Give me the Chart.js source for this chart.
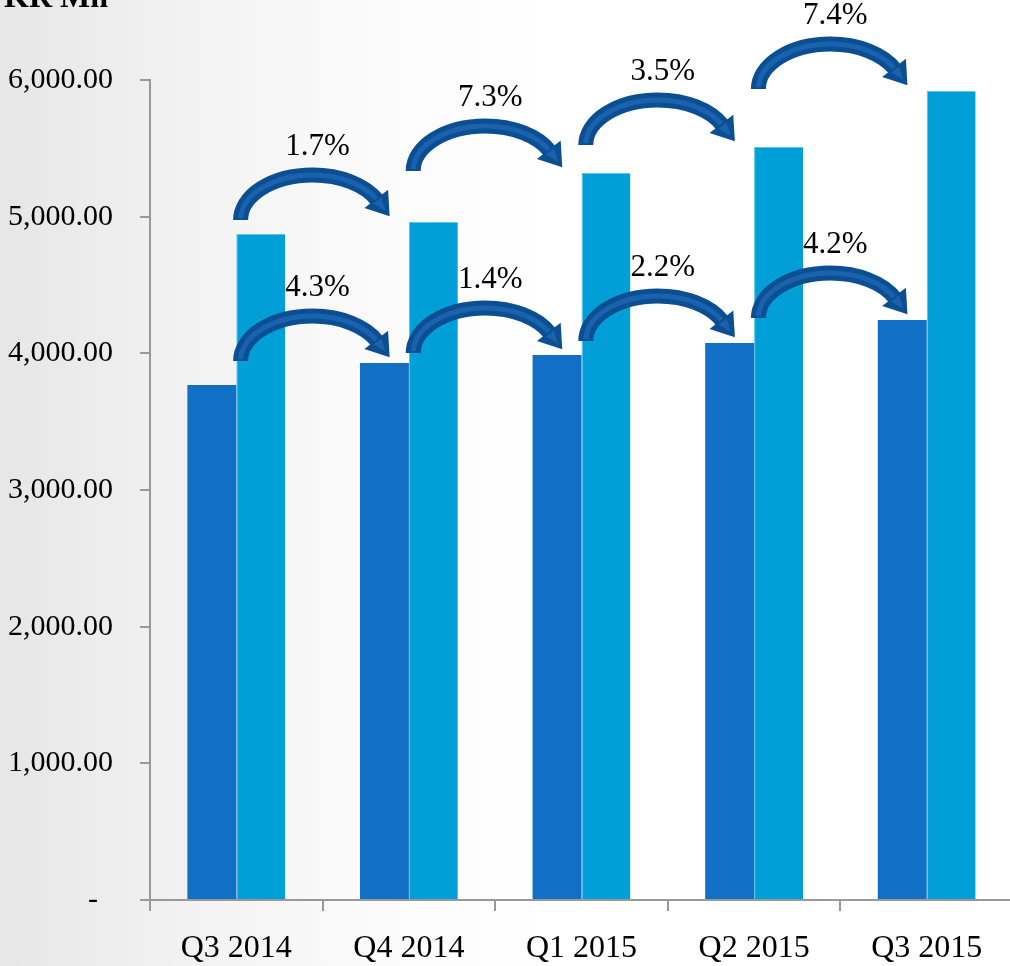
<!DOCTYPE html>
<html>
<head>
<meta charset="utf-8">
<script src="https://cdn.jsdelivr.net/npm/chart.js@4"></script>
<style>
  html, body { margin: 0; padding: 0; width: 1010px; height: 966px; overflow: hidden; }
  body { background: linear-gradient(to right, #e6e6e6 0%, #f2f2f2 18%, #fbfbfb 38%, #ffffff 55%); }
  #wrap { position: absolute; left: 0; top: 0; width: 1013px; height: 966px; }
</style>
</head>
<body>
<div id="wrap"><canvas id="c"></canvas></div>
<script>
const categories = ['Q3 2014', 'Q4 2014', 'Q1 2015', 'Q2 2015', 'Q3 2015'];
const seriesDark = [3768, 3929, 3988, 4076, 4244];
const seriesLight = [4873, 4961, 5320, 5510, 5919];
const growthDark = ['4.3%', '1.4%', '2.2%', '4.2%'];
const growthLight = ['1.7%', '7.3%', '3.5%', '7.4%'];
const yTickValues = [0, 1000, 2000, 3000, 4000, 5000, 6000];
const unitLabel = 'PKR Mn';

const FONT = '"Liberation Serif", "Times New Roman", serif';

function fmt(v) {
  if (v === 0) return '-  ';
  const s = Math.round(v).toString().replace(/\B(?=(\d{3})+(?!\d))/g, ',');
  return s + '.00';
}

function drawArrow(ctx, cx, ey, label) {
  const rx = 72, ry = 45;
  const e = -0.45;
  ctx.save();
  ctx.lineCap = 'butt';
  ctx.beginPath();
  ctx.ellipse(cx, ey, rx, ry, 0, Math.PI, 2 * Math.PI + e, false);
  ctx.strokeStyle = '#0b4f92';
  ctx.lineWidth = 15;
  ctx.stroke();
  ctx.beginPath();
  ctx.ellipse(cx, ey, rx, ry, 0, Math.PI + 0.04, 2 * Math.PI + e, false);
  ctx.strokeStyle = '#1a62ad';
  ctx.lineWidth = 5;
  ctx.stroke();
  // head
  const px = cx + rx * Math.cos(e), py = ey + ry * Math.sin(e);
  let tx = -rx * Math.sin(e), ty = ry * Math.cos(e);
  const tl = Math.hypot(tx, ty); tx /= tl; ty /= tl;
  const nx = -ty, ny = tx;
  const hw = 15, hl = 20;
  ctx.beginPath();
  ctx.moveTo(px + nx * hw - tx * 2, py + ny * hw - ty * 2);
  ctx.lineTo(px + tx * hl, py + ty * hl);
  ctx.lineTo(px - nx * hw - tx * 2, py - ny * hw - ty * 2);
  ctx.closePath();
  ctx.fillStyle = '#0b4f92';
  ctx.fill();
  ctx.beginPath();
  ctx.moveTo(px + nx * 5, py + ny * 5);
  ctx.lineTo(px + tx * (hl - 7), py + ty * (hl - 7));
  ctx.lineTo(px - nx * 5, py - ny * 5);
  ctx.closePath();
  ctx.fillStyle = '#1a62ad';
  ctx.fill();
  // label
  ctx.fillStyle = '#000';
  ctx.font = '31px ' + FONT;
  ctx.textAlign = 'center';
  ctx.textBaseline = 'middle';
  ctx.fillText(label, cx + 5, ey - ry - 7 - 21);
  ctx.restore();
}

const arrowPlugin = {
  id: 'arrows',
  afterDatasetsDraw(chart) {
    const ctx = chart.ctx;
    const xs = chart.scales.x, ys = chart.scales.y;
    const sets = [[seriesDark, growthDark], [seriesLight, growthLight]];
    sets.forEach(([vals, labels]) => {
      for (let i = 0; i < labels.length; i++) {
        const bx = (xs.getPixelForValue(i) + xs.getPixelForValue(i + 1)) / 2;
        const ey = ys.getPixelForValue(vals[i + 1]) - 2;
        drawArrow(ctx, bx - 10, ey, labels[i]);
      }
    });
  },
  afterDraw(chart) {
    const ctx = chart.ctx;
    ctx.save();
    ctx.fillStyle = '#000';
    ctx.font = 'bold 32px ' + FONT;
    ctx.textAlign = 'right';
    ctx.textBaseline = 'alphabetic';
    ctx.fillText(unitLabel, 108, 7);
    ctx.restore();
  }
};

new Chart(document.getElementById('c'), {
  type: 'bar',
  data: {
    labels: categories,
    datasets: [
      { label: 'Series 1', data: seriesDark, backgroundColor: '#1170c5', borderWidth: 0,
        categoryPercentage: 0.567, barPercentage: 1.0 },
      { label: 'Series 2', data: seriesLight, backgroundColor: '#019fd8', borderColor: '#5cc4ec',
        borderWidth: { top: 1, left: 1, right: 0, bottom: 0 },
        categoryPercentage: 0.567, barPercentage: 1.0 }
    ]
  },
  options: {
    responsive: true,
    maintainAspectRatio: false,
    animation: false,
    layout: { padding: { top: 80, left: 0, right: 0, bottom: 0 } },
    plugins: { legend: { display: false }, tooltip: { enabled: false }, title: { display: false } },
    scales: {
      x: {
        grid: { display: true, drawOnChartArea: false, drawTicks: true, tickLength: 11, color: '#999', lineWidth: 2, offset: true },
        border: { color: '#999', width: 2 },
        ticks: { color: '#000', font: { family: FONT, size: 32 }, padding: 18, maxRotation: 0 },
        afterFit(s) { s.height = 66; }
      },
      y: {
        min: 0, max: 6000,
        afterBuildTicks(s) { s.ticks = yTickValues.map(v => ({ value: v })); },
        grid: { display: true, drawOnChartArea: false, drawTicks: true, tickLength: 10, color: '#999', lineWidth: 2 },
        border: { color: '#999', width: 2 },
        ticks: { color: '#000', font: { family: FONT, size: 30 }, padding: 27, callback: v => fmt(v) },
        afterFit(s) { s.width = 150; }
      }
    }
  },
  plugins: [arrowPlugin]
});
</script>
</body>
</html>
